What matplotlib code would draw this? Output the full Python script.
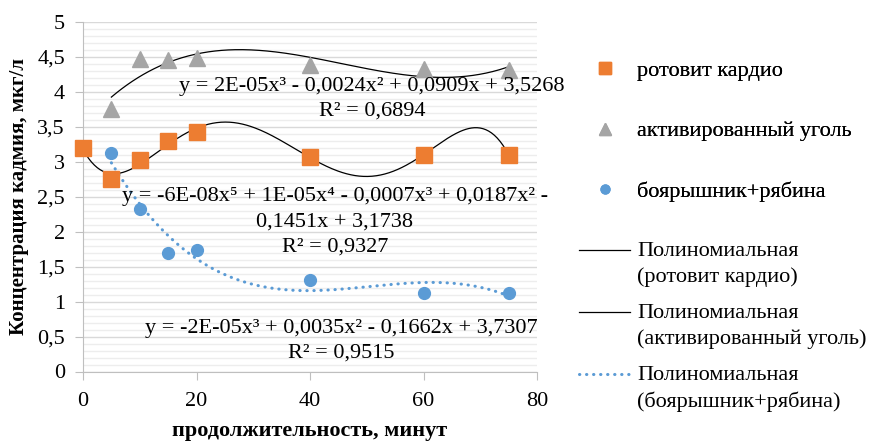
# %% Imports:
import matplotlib.pyplot as plt
import matplotlib.ticker as mticker
import numpy as np

# Data:
t_roto = [0, 5, 10, 15, 20, 40, 60, 75]
c_roto = [3.2, 2.75, 3.02, 3.3, 3.42, 3.07, 3.1, 3.1]
t_coal = [5, 10, 15, 20, 40, 60, 75]
c_coal = [3.75, 4.47, 4.45, 4.48, 4.38, 4.33, 4.32]
t_haw = [5, 10, 15, 20, 40, 60, 75]
c_haw = [3.12, 2.33, 1.69, 1.74, 1.31, 1.13, 1.13]

names = ['ротовит кардио', 'активированный уголь', 'боярышник+рябина']
trend_label = 'Полиномиальная\n({})'

eq_coal = ['y = 2E-05x³ - 0,0024x² + 0,0909x + 3,5268', 'R² = 0,6894']
eq_roto = ['y = -6E-08x⁵ + 1E-05x⁴ - 0,0007x³ + 0,0187x² -', '0,1451x + 3,1738', 'R² = 0,9327']
eq_haw = ['y = -2E-05x³ + 0,0035x² - 0,1662x + 3,7307', 'R² = 0,9515']

c_orange = '#ED7D31'
c_gray = '#A5A5A5'
c_blue = '#5B9BD5'


def trend(t, c, deg):
    p = np.polyfit(t, c, deg)
    xs = np.linspace(min(t), max(t), 300)
    return xs, np.polyval(p, xs)


def put_label(lines, x, y_top, step=0.36):
    # trendline label, one text per line (data units)
    for i, s in enumerate(lines):
        ax.text(x, y_top - i*step, s, ha='center', va='center', fontsize=fsize, zorder=5)


# %% Plotting:
fsize = 16
plt.rcParams['font.family'] = ['Liberation Serif', 'DejaVu Serif']
plt.close('all')

fig = plt.figure(figsize=(8.69, 4.41), dpi=100)
ax = fig.add_axes([83/869, 1 - 371.5/441, 454/869, 349.5/441])

m1, = ax.plot(t_roto, c_roto, 's', color=c_orange, ms=11, label=names[0], zorder=4, clip_on=False)
m2, = ax.plot(t_coal, c_coal, '^', color=c_gray, ms=11, label=names[1], zorder=4, clip_on=False)
m3, = ax.plot(t_haw, c_haw, 'o', color=c_blue, ms=8.5, label=names[2], zorder=4, clip_on=False)

xs, ys = trend(t_roto, c_roto, 5)
l1, = ax.plot(xs, ys, color='black', lw=0.9, label=trend_label.format(names[0]), zorder=3)
xs, ys = trend(t_coal, c_coal, 3)
l2, = ax.plot(xs, ys, color='black', lw=0.9, label=trend_label.format(names[1]), zorder=3)
xs, ys = trend(t_haw, c_haw, 3)
l3, = ax.plot(xs, ys, color=c_blue, lw=2.2, linestyle=(0, (0.1, 2.2)), dash_capstyle='round',
              label=trend_label.format(names[2]), zorder=3)

put_label(eq_coal, 50.9, 4.08, 0.35)
put_label(eq_roto, 44.4, 2.50, 0.36)
put_label(eq_haw, 45.5, 0.62, 0.36)

ax.set_xlim(0, 80)
ax.set_ylim(0, 5)
ax.set_xticks([0, 20, 40, 60, 80])
ax.set_yticks(np.arange(0, 5.01, 0.5))
ax.yaxis.set_minor_locator(mticker.MultipleLocator(0.1))
fmt = mticker.FuncFormatter(lambda v, p: ('%g' % v).replace('.', ','))
ax.yaxis.set_major_formatter(fmt)
ax.xaxis.set_major_formatter(fmt)

ax.grid(axis='y', which='major', color='#D9D9D9', lw=1, zorder=1)
ax.grid(axis='y', which='minor', color='#EDEDED', lw=1, zorder=1)
ax.set_axisbelow(True)
for s in ['top', 'right']:
    ax.spines[s].set_visible(False)
for s in ['left', 'bottom']:
    ax.spines[s].set_color('#BFBFBF')
ax.tick_params(which='major', length=6, color='#BFBFBF', labelsize=fsize)
ax.tick_params(axis='x', pad=9)
ax.tick_params(axis='y', pad=7)
ax.tick_params(which='minor', length=0)

ax.set_xlabel('продолжительность, минут', fontsize=fsize, fontweight='bold')
ax.set_ylabel('Концентрация кадмия, мкг/л', fontsize=15, fontweight='bold')
ax.xaxis.set_label_coords(0.5, -0.143)
ax.yaxis.set_label_coords(-0.12, 0.5)

leg1 = fig.legend(handles=[m1, m2, m3], loc='center left', bbox_to_anchor=(579/869, 1 - 131/441),
                  frameon=False, fontsize=fsize, handlelength=2.3, handletextpad=0.32,
                  labelspacing=1.8, borderpad=0, borderaxespad=0, markerscale=0.75)
leg2 = fig.legend(handles=[l1, l2, l3], loc='center left', bbox_to_anchor=(579/869, 1 - 327/441),
                  frameon=False, fontsize=fsize, handlelength=2.3, handletextpad=0.32,
                  labelspacing=0.75, borderpad=0, borderaxespad=0)
for t in leg2.get_texts():
    t.set_linespacing(1.45)
# line handle next to the first text line, as in the source chart
for item in leg2._legend_handle_box.get_children()[0].get_children():
    item.align = 'top'
fig.add_artist(leg1)

plt.savefig('out.png', dpi=100)
